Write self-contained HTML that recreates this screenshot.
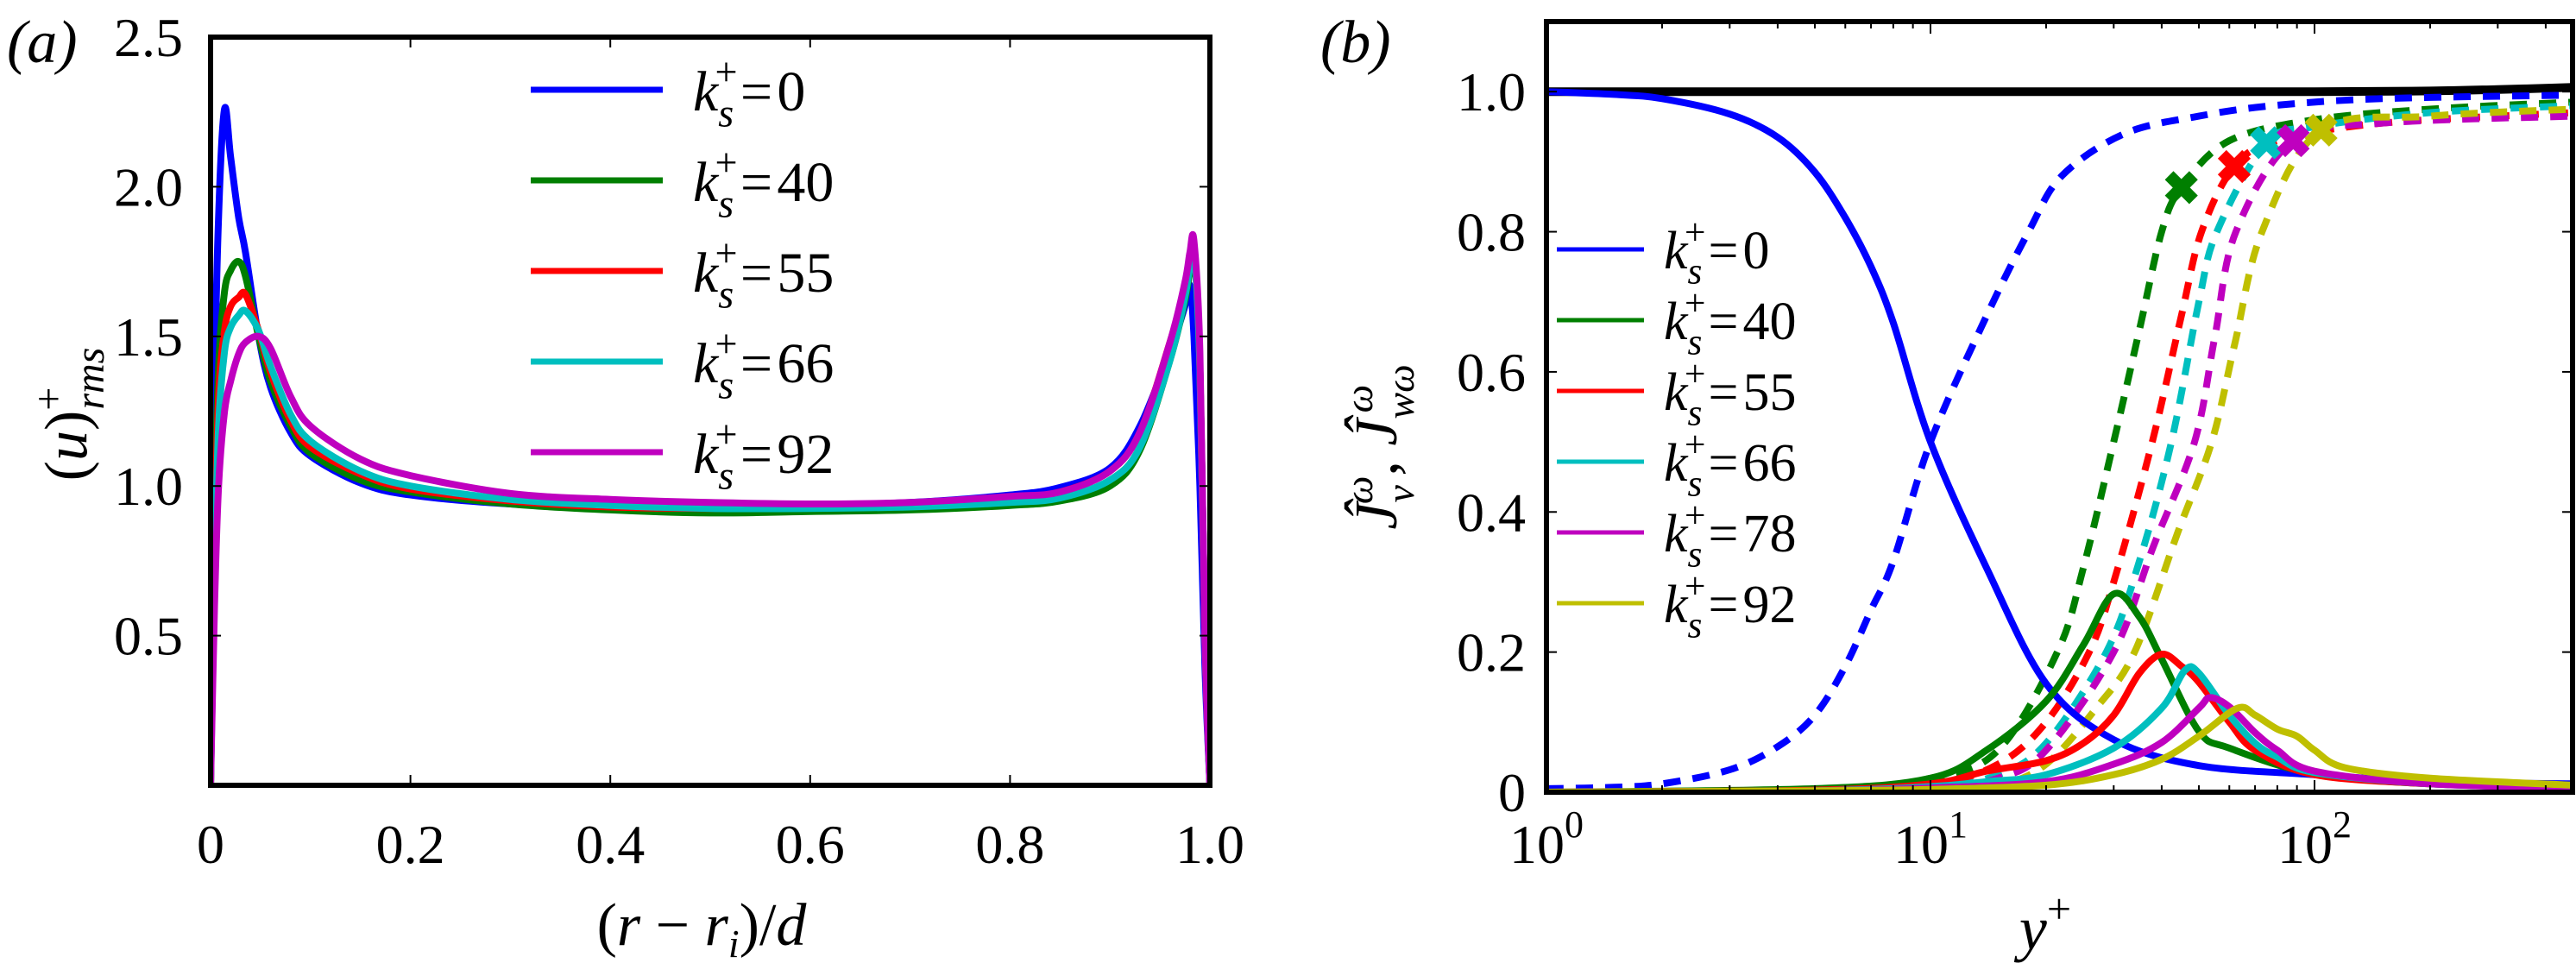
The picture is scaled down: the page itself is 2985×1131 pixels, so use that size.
<!DOCTYPE html>
<html><head><meta charset="utf-8">
<style>
html,body{margin:0;padding:0;background:#fff;}
svg{display:block;font-family:"Liberation Serif","DejaVu Serif",serif;}
</style></head>
<body>
<svg id="fig" width="2985" height="1131" viewBox="0 0 2985 1131" xmlns="http://www.w3.org/2000/svg">
<defs>
<clipPath id="clipA"><rect x="244" y="43" width="1158" height="867"/></clipPath>
<clipPath id="clipB"><rect x="1792" y="25" width="1189" height="893"/></clipPath>
</defs>
<g id="panelA"></g>
<g id="panelB"></g>
</svg>
<script>
// ---------- Panel (a) data ----------
const aX = [0,0.004,0.008,0.014,0.02,0.028,0.035,0.048,0.06,0.08,0.1,0.15,0.2,0.3,0.4,0.5,0.6,0.7,0.8,0.85,0.9,0.93,0.96,0.975,0.98,0.984,0.99,0.995,1.0];
const aBlue = [0,1.3,1.9,2.26,2.1,1.9,1.78,1.5,1.33,1.18,1.1,1.01,0.97,0.94,0.93,0.93,0.935,0.945,0.97,0.995,1.06,1.2,1.45,1.6,1.67,1.5,1.0,0.4,0];
const aGreen = [0,0.9,1.4,1.65,1.72,1.75,1.7,1.5,1.35,1.2,1.11,1.02,0.98,0.94,0.92,0.91,0.915,0.92,0.935,0.95,1.0,1.12,1.42,1.62,1.72,1.78,1.4,0.5,0];
const aRed = [0,0.8,1.3,1.52,1.6,1.63,1.64,1.52,1.38,1.22,1.13,1.04,0.99,0.95,0.93,0.925,0.93,0.94,0.96,0.98,1.05,1.18,1.48,1.66,1.75,1.8,1.4,0.5,0];
const aCyan = [0,0.7,1.2,1.45,1.53,1.57,1.585,1.52,1.4,1.24,1.15,1.05,1.0,0.955,0.935,0.925,0.925,0.93,0.945,0.96,1.02,1.13,1.42,1.63,1.74,1.79,1.4,0.5,0];
const aMagenta = [0,0.6,1.0,1.25,1.35,1.44,1.48,1.5,1.46,1.3,1.2,1.09,1.035,0.975,0.955,0.945,0.94,0.945,0.965,0.98,1.05,1.18,1.48,1.68,1.78,1.82,1.45,0.5,0];
const aLegend = ["0","40","55","66","92"];
const aXTicks = [0,0.2,0.4,0.6,0.8,1.0];
const aXTickLabels = ["0","0.2","0.4","0.6","0.8","1.0"];
const aYTicks = [0.5,1.0,1.5,2.0,2.5];
const aYTickLabels = ["0.5","1.0","1.5","2.0","2.5"];

// ---------- Panel (b) data ----------
const bLegend = ["0","40","55","66","78","92"];
const bBlueSolidX = [1,1.5,2,3,4,5,6,7,8,10,14,20,30,50,100,200,470];
const bBlueSolidY = [1.0,0.996,0.99,0.968,0.935,0.885,0.82,0.75,0.67,0.5,0.32,0.155,0.075,0.038,0.025,0.015,0.012];
const bBlueDashX = [1,1.5,2,3,4,5,6,7,8,10,14,18,22,32,50,78,150,470];
const bBlueDashY = [0.005,0.007,0.012,0.032,0.065,0.11,0.18,0.26,0.33,0.5,0.68,0.8,0.88,0.94,0.965,0.98,0.99,0.995];
const bGreenX = [1,5,10,14,20,25,30,35,40,50,60,100,200,470];
const bGreenY = [0,0.005,0.02,0.06,0.13,0.21,0.283,0.25,0.19,0.087,0.063,0.026,0.012,0.006];
const bRedX = [1,5,10,14,20,25,30,35,40,45,50,60,70,100,200,470];
const bRedY = [0,0.003,0.012,0.03,0.045,0.07,0.11,0.17,0.197,0.18,0.157,0.1,0.06,0.025,0.012,0.006];
const bCyanX = [1,5,10,14,20,30,40,46,50,60,70,80,100,200,470];
const bCyanY = [0,0.002,0.008,0.015,0.025,0.063,0.12,0.174,0.17,0.11,0.07,0.05,0.028,0.012,0.006];
const bMagentaX = [1,5,10,20,30,40,50,53.5,60,70,80,100,200,470];
const bMagentaY = [0,0.002,0.006,0.015,0.04,0.071,0.12,0.135,0.122,0.085,0.06,0.03,0.012,0.006];
const bYellowX = [1,5,10,20,30,40,50,63,70,80,90,100,120,200,470];
const bYellowY = [0,0.002,0.004,0.01,0.025,0.047,0.08,0.12,0.11,0.09,0.08,0.06,0.035,0.02,0.01];
const bGreenDashX = [1,5,10,15,21.4,25,30,35,40,45,60,100,200,470];
const bGreenDashY = [0,0.002,0.02,0.06,0.2,0.32,0.5,0.66,0.8,0.863,0.93,0.96,0.975,0.985];
const bRedDashX = [1,5,10,15,20,25.9,30,37.8,45,50.8,61.8,80,150,470];
const bRedDashY = [0,0.001,0.01,0.04,0.1,0.2,0.3,0.5,0.68,0.8,0.893,0.93,0.955,0.97];
const bCyanDashX = [1,5,10,15,20,28.7,35,42.4,50,55.7,75,100,200,470];
const bCyanDashY = [0,0.001,0.005,0.025,0.07,0.2,0.33,0.5,0.7,0.8,0.927,0.95,0.97,0.98];
const bMagentaDashX = [1,5,10,15,20,30,38,48.7,55,62.4,88,150,470];
const bMagentaDashY = [0,0.001,0.004,0.02,0.06,0.2,0.35,0.5,0.65,0.8,0.93,0.955,0.965];
const bYellowDashX = [1,5,10,15,20,27,34,44,54,62,73,104,200,470];
const bYellowDashY = [0,0.001,0.003,0.01,0.04,0.12,0.2,0.37,0.5,0.64,0.8,0.945,0.965,0.975];
const bBlackX = [1,10,100,200,300,470];
const bBlackY = [1.0,1.0,1.0,1.001,1.003,1.006];
const bMarkerX = [45,61.8,75,88,104];
const bMarkerY = [0.863,0.893,0.927,0.93,0.945];
const bYTicks = [0,0.2,0.4,0.6,0.8,1.0];
const bYTickLabels = ["0","0.2","0.4","0.6","0.8","1.0"];
const bXDecades = [0,1,2];

const NS = "http://www.w3.org/2000/svg";
function mk(tag, attrs, parent){
  const e = document.createElementNS(NS, tag);
  for (const k in attrs) e.setAttribute(k, attrs[k]);
  parent.appendChild(e);
  return e;
}
function smoothPath(P){
  let d = 'M'+P[0][0].toFixed(1)+','+P[0][1].toFixed(1);
  for(let i=0;i<P.length-1;i++){
    const p0=P[Math.max(0,i-1)], p1=P[i], p2=P[i+1], p3=P[Math.min(P.length-1,i+2)];
    const t=1/6;
    const c1=[p1[0]+(p2[0]-p0[0])*t, p1[1]+(p2[1]-p0[1])*t];
    const c2=[p2[0]-(p3[0]-p1[0])*t, p2[1]-(p3[1]-p1[1])*t];
    c1[0]=Math.min(Math.max(c1[0],p1[0]),p2[0]);
    c2[0]=Math.min(Math.max(c2[0],p1[0]),p2[0]);
    d+=' C'+c1[0].toFixed(1)+','+c1[1].toFixed(1)+' '+c2[0].toFixed(1)+','+c2[1].toFixed(1)+' '+p2[0].toFixed(1)+','+p2[1].toFixed(1);
  }
  return d;
}
const colors = {blue:"#0000ff",green:"#007f00",red:"#ff0000",cyan:"#00bfbf",magenta:"#bf00bf",yellow:"#bfbf00"};

// ---------- Panel A ----------
const A = document.getElementById('panelA');
const aL=244,aR=1402,aT=43,aB=910,aYmax=2.5;
const ax = v => aL + v*(aR-aL);
const ay = v => aB - v/aYmax*(aB-aT);

const aSeries = [[aBlue,colors.blue],[aGreen,colors.green],[aRed,colors.red],[aCyan,colors.cyan],[aMagenta,colors.magenta]];
const aNames = ['curve-ks-0','curve-ks-40','curve-ks-55','curve-ks-66','curve-ks-92'];
const aLines = mk('g',{'clip-path':'url(#clipA)'},A);
aSeries.forEach((s,i)=>{
  const P = aX.map((x,j)=>[ax(x),ay(s[0][j])]);
  const pl = mk('path',{d:smoothPath(P),fill:'none',stroke:s[1],'stroke-width':8,'stroke-linejoin':'round'},aLines);
  
  
});
aXTicks.forEach((t,i)=>{
  const x=ax(t);
  mk('line',{x1:x,y1:aB,x2:x,y2:aB-12,stroke:'#000','stroke-width':2},A);
  mk('line',{x1:x,y1:aT,x2:x,y2:aT+12,stroke:'#000','stroke-width':2},A);
  const tx = mk('text',{x:x,y:1000,'font-size':64,'text-anchor':'middle'},A);
  tx.textContent = aXTickLabels[i];
  
  
});
aYTicks.forEach((t,i)=>{
  const y=ay(t);
  mk('line',{x1:aL,y1:y,x2:aL+12,y2:y,stroke:'#000','stroke-width':2},A);
  mk('line',{x1:aR,y1:y,x2:aR-12,y2:y,stroke:'#000','stroke-width':2},A);
  const tx = mk('text',{x:212,y:y+22,'font-size':64,'text-anchor':'end'},A);
  tx.textContent = aYTickLabels[i];
  
  
});
const aFrame = mk('rect',{x:aL,y:aT,width:aR-aL,height:aB-aT,fill:'none',stroke:'#000','stroke-width':6},A);



function legendLabel(parent, x, y, val, fs){
  const t = mk('text',{x:x,y:y,'font-size':fs},parent);
  t.innerHTML = '<tspan font-style="italic">k</tspan><tspan font-style="italic" font-size="'+(fs*0.7)+'" dy="'+(fs*0.28)+'">s</tspan><tspan font-size="'+(fs*0.7)+'" dx="'+(-fs*0.33)+'" dy="'+(-fs*0.72)+'">+</tspan><tspan dx="'+(fs*0.05)+'" dy="'+(fs*0.44)+'">=</tspan><tspan dx="'+(fs*0.08)+'">'+val+'</tspan>';
  return t;
}
aLegend.forEach((v,i)=>{
  const y = 104 + i*105;
  const g = mk('g',{},A);
  
  
  mk('line',{x1:615,y1:y,x2:768,y2:y,stroke:aSeries[i][1],'stroke-width':7},g);
  legendLabel(g, 803, y+24, v, 66);
});
const aLab = mk('text',{x:8,y:72,'font-size':70,'font-style':'italic'},A);
aLab.textContent='(a)';


const aXl = mk('text',{x:813,y:1095,'font-size':70,'text-anchor':'middle'},A);
aXl.innerHTML='(<tspan font-style="italic">r</tspan> − <tspan font-style="italic">r</tspan><tspan font-style="italic" font-size="46" dy="14">i</tspan><tspan dy="-14">)/</tspan><tspan font-style="italic">d</tspan>';


const aYl = mk('text',{x:0,y:0,'font-size':70,'text-anchor':'middle',transform:'translate(100,480) rotate(-90)'},A);
aYl.innerHTML='(<tspan font-style="italic">u</tspan>)<tspan font-size="48" dy="-28">+</tspan><tspan font-size="48" font-style="italic" dx="-26" dy="48">rms</tspan>';



// ---------- Panel B ----------
const B = document.getElementById('panelB');
const bL=1792,bR=2981,bT=25,bB=918,bYmax=1.1,bDec=445;
const bx = v => bL + Math.log10(v)*bDec;
const by = v => bB - v/bYmax*(bB-bT);
const bLines = mk('g',{'clip-path':'url(#clipB)'},B);
function drawB(xs,ys,col,dash,name,w){
  const P = xs.map((x,j)=>[bx(x),by(ys[j])]);
  const a = {d:smoothPath(P),fill:'none',stroke:col,'stroke-width':w||8,'stroke-linejoin':'round'};
  if(dash) a['stroke-dasharray']='20 14';
  const pl = mk('path',a,bLines);
  
  
}
drawB(bBlackX,bBlackY,'#000',false,'reference-line-one',10);
drawB(bBlueDashX,bBlueDashY,colors.blue,true,'dashed-ks-0');
drawB(bGreenDashX,bGreenDashY,colors.green,true,'dashed-ks-40');
drawB(bRedDashX,bRedDashY,colors.red,true,'dashed-ks-55');
drawB(bCyanDashX,bCyanDashY,colors.cyan,true,'dashed-ks-66');
drawB(bMagentaDashX,bMagentaDashY,colors.magenta,true,'dashed-ks-78');
drawB(bYellowDashX,bYellowDashY,colors.yellow,true,'dashed-ks-92');
drawB(bBlueSolidX,bBlueSolidY,colors.blue,false,'solid-ks-0');
drawB(bGreenX,bGreenY,colors.green,false,'solid-ks-40');
drawB(bRedX,bRedY,colors.red,false,'solid-ks-55');
drawB(bCyanX,bCyanY,colors.cyan,false,'solid-ks-66');
drawB(bMagentaX,bMagentaY,colors.magenta,false,'solid-ks-78');
drawB(bYellowX,bYellowY,colors.yellow,false,'solid-ks-92');
const mCols=[colors.green,colors.red,colors.cyan,colors.magenta,colors.yellow];
bMarkerX.forEach((x,i)=>{
  const cx=bx(x), cy=by(bMarkerY[i]);
  const g = mk('g',{transform:'translate('+cx.toFixed(1)+','+cy.toFixed(1)+') rotate(45)'},bLines);
  
  
  mk('rect',{x:-20,y:-7,width:40,height:14,fill:mCols[i]},g);
  mk('rect',{x:-7,y:-20,width:14,height:40,fill:mCols[i]},g);
});
bXDecades.forEach(d=>{
  const x=bx(Math.pow(10,d));
  mk('line',{x1:x,y1:bB,x2:x,y2:bB-14,stroke:'#000','stroke-width':2},B);
  mk('line',{x1:x,y1:bT,x2:x,y2:bT+14,stroke:'#000','stroke-width':2},B);
  const t = mk('text',{x:x,y:1000,'font-size':64,'text-anchor':'middle'},B);
  t.innerHTML='10<tspan font-size="44" dy="-30">'+d+'</tspan>';
  
  
  for(let m=2;m<=9;m++){
    const v=m*Math.pow(10,d);
    if(v>470) break;
    const xm=bx(v);
    mk('line',{x1:xm,y1:bB,x2:xm,y2:bB-8,stroke:'#000','stroke-width':2},B);
    mk('line',{x1:xm,y1:bT,x2:xm,y2:bT+8,stroke:'#000','stroke-width':2},B);
  }
});
bYTicks.forEach((t,i)=>{
  const y=by(t);
  mk('line',{x1:bL,y1:y,x2:bL+12,y2:y,stroke:'#000','stroke-width':2},B);
  mk('line',{x1:bR,y1:y,x2:bR-12,y2:y,stroke:'#000','stroke-width':2},B);
  const tx = mk('text',{x:1768,y:y+22,'font-size':64,'text-anchor':'end'},B);
  tx.textContent=bYTickLabels[i];
  
  
});
const bFrame = mk('rect',{x:bL,y:bT,width:bR-bL,height:bB-bT,fill:'none',stroke:'#000','stroke-width':6},B);


const bCols=[colors.blue,colors.green,colors.red,colors.cyan,colors.magenta,colors.yellow];
bLegend.forEach((v,i)=>{
  const y=289+i*82;
  const g=mk('g',{},B);
  
  
  mk('line',{x1:1804,y1:y,x2:1905,y2:y,stroke:bCols[i],'stroke-width':5},g);
  legendLabel(g, 1928, y+22, v, 62);
});
const bLab = mk('text',{x:1530,y:72,'font-size':70,'font-style':'italic'},B);
bLab.textContent='(b)';


const bXl = mk('text',{x:2370,y:1100,'font-size':72,'font-style':'italic','text-anchor':'middle'},B);
bXl.innerHTML='y<tspan font-style="normal" font-size="50" dy="-30">+</tspan>';


const bYl = mk('text',{x:0,y:0,'font-size':70,'text-anchor':'middle','font-style':'italic',transform:'translate(1618,518) rotate(-90)'},B);
bYl.innerHTML='Ĵ<tspan font-size="46" dy="20">v</tspan><tspan font-size="46" dx="-22" dy="-48">ω</tspan><tspan font-style="normal" dy="28">, </tspan>Ĵ<tspan font-size="46" dy="20">wω</tspan><tspan font-size="46" dx="-56" dy="-48">ω</tspan>';


</script>
</body></html>
